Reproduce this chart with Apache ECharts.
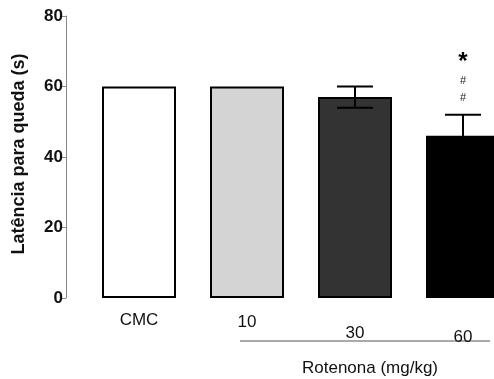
<!DOCTYPE html>
<html><head><meta charset="utf-8">
<script src="https://cdn.jsdelivr.net/npm/echarts@6/dist/echarts.min.js"></script>
<style>html,body{margin:0;padding:0;background:#fff}#c{width:494px;height:379px}</style>
</head><body><div id="c"></div>
<script>
const categories = ['CMC', '10', '30', '60'];
const means = [60, 60, 57, 46];
const errors = [0, 0, 3, 6];
const fills = ['#ffffff', '#d4d4d4', '#333333', '#000000'];
const signif = ['', '', '', '*\n#\n#'];
const yTicks = [0, 20, 40, 60, 80];
const labelOffsets = [0, 2, 13, 17];

const chart = echarts.init(document.getElementById('c'), null, {renderer: 'canvas'});
const rich = {};
categories.forEach((c, i) => {
  rich['l' + i] = {fontFamily: 'Liberation Sans, Arial', fontSize: 17, color: '#111', padding: [labelOffsets[i], 0, 0, 0]};
});
chart.setOption({
  animation: false,
  grid: {left: 85, top: 16, width: 432, bottom: 81, containLabel: false, outerBoundsMode: 'none'},
  xAxis: {
    type: 'category',
    data: categories,
    axisLine: {show: false},
    axisTick: {show: false},
    axisLabel: {
      margin: 14,
      formatter: (v) => '{l' + categories.indexOf(v) + '|' + v + '}',
      rich: rich
    }
  },
  yAxis: {
    type: 'value',
    min: yTicks[0], max: yTicks[yTicks.length - 1], interval: 20,
    offset: 19,
    name: 'Latência para queda (s)',
    nameLocation: 'middle',
    nameGap: 38,
    nameTextStyle: {fontFamily: 'Liberation Sans, Arial', fontSize: 18, fontWeight: 'bold', color: '#111', padding: [0, 0, 0, 6]},
    axisLine: {show: true, lineStyle: {color: '#888', width: 1}},
    axisTick: {show: true, length: 5, lineStyle: {color: '#888'}},
    splitLine: {show: false},
    axisLabel: {fontFamily: 'Liberation Sans, Arial', fontSize: 17, fontWeight: 'bold', color: '#111', margin: 3}
  },
  series: [
    {
      type: 'bar',
      barWidth: 74,
      data: means.map((m, i) => ({value: m, itemStyle: {color: fills[i], borderColor: '#000', borderWidth: 2}}))
    },
    {
      type: 'custom',
      data: means.map((m, i) => [i, m, errors[i]]),
      renderItem: (params, api) => {
        const i = api.value(0), m = api.value(1), e = api.value(2);
        const children = [];
        const top = api.coord([i, m + e]);
        if (e > 0) {
          const bot = api.coord([i, m - e]);
          const hw = 18;
          children.push({type: 'line', shape: {x1: top[0], y1: top[1], x2: bot[0], y2: bot[1]}, style: {stroke: '#000', lineWidth: 2}});
          children.push({type: 'line', shape: {x1: top[0] - hw, y1: top[1], x2: top[0] + hw, y2: top[1]}, style: {stroke: '#000', lineWidth: 2}});
          children.push({type: 'line', shape: {x1: bot[0] - hw, y1: bot[1], x2: bot[0] + hw, y2: bot[1]}, style: {stroke: '#000', lineWidth: 2}});
        }
        const s = signif[params.dataIndex];
        if (s) {
          children.push({type: 'text', x: top[0], y: top[1] - 64, style: {text: '*', fontFamily: 'Liberation Sans, Arial', fontSize: 24, fontWeight: 'bold', fill: '#000', align: 'center', verticalAlign: 'top'}});
          children.push({type: 'text', x: top[0], y: top[1] - 34, style: {text: '#', fontFamily: 'Liberation Sans, Arial', fontSize: 11, fill: '#222', align: 'center', verticalAlign: 'middle'}});
          children.push({type: 'text', x: top[0], y: top[1] - 17, style: {text: '#', fontFamily: 'Liberation Sans, Arial', fontSize: 11, fill: '#222', align: 'center', verticalAlign: 'middle'}});
        }
        return {type: 'group', children: children};
      },
      z: 5
    }
  ],
  graphic: [
    {type: 'line', shape: {x1: 240, y1: 341, x2: 490, y2: 341}, style: {stroke: '#555', lineWidth: 1}},
    {type: 'text', x: 370, y: 368, style: {text: 'Rotenona (mg/kg)', fontFamily: 'Liberation Sans, Arial', fontSize: 17, fill: '#111', align: 'center', verticalAlign: 'middle'}}
  ]
});
</script></body></html>
